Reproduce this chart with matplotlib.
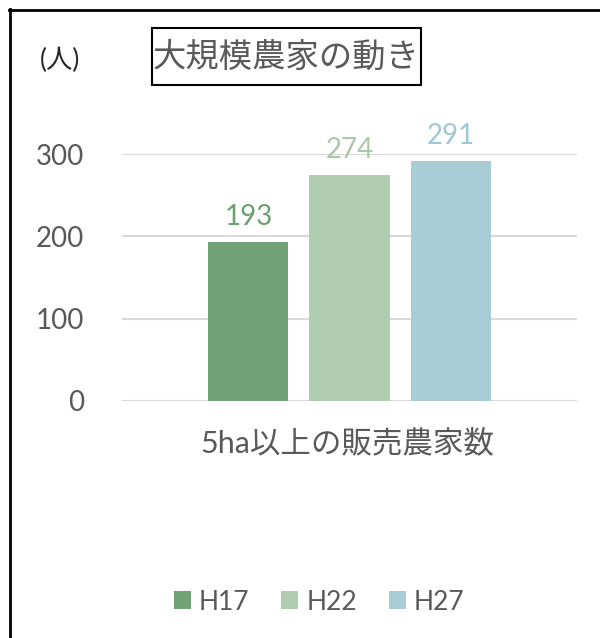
import matplotlib
matplotlib.use('Agg')
import matplotlib.pyplot as plt
from matplotlib.patches import Patch, Rectangle
from matplotlib.lines import Line2D

plt.rcParams['font.family'] = ['Lato', 'Noto Sans CJK JP', 'DejaVu Sans']

# data
series = ['H17', 'H22', 'H27']
values = [193, 274, 291]
colors = ['#70a275', '#b0cdb0', '#a8cdd6']
label_colors = ['#6b9e70', '#a8c8a8', '#a0c8d2']
category = '5ha以上の販売農家数'
title = '大規模農家の動き'
unit = '(人)'
yticks = [0, 100, 200, 300]

txt = '#595959'
W, H = 600, 638

fig = plt.figure(figsize=(6.0, 6.38), dpi=100)
ax = fig.add_axes([0.203, 0.3715, 0.759, 0.387])

xs = [0, 1, 2]
w = 80 / 101
bars = ax.bar(xs, values, width=w, color=colors, zorder=3)
for x, v, c in zip(xs, values, label_colors):
    ax.annotate(str(v), (x, v), xytext=(0, 9), textcoords='offset points',
                ha='center', va='bottom', fontsize=20, color=c, annotation_clip=False)

half = 455 / 101 / 2
ax.set_xlim(1 - half, 1 + half)
ax.set_ylim(0, 300)
ax.set_yticks(yticks)
ax.set_yticklabels([str(t) for t in yticks], fontsize=20, color=txt)
ax.tick_params(axis='y', length=0, pad=27)
ax.set_xticks([])
for s in ax.spines.values():
    s.set_visible(False)
ax.yaxis.grid(True, color='#d9d9d9', linewidth=1.5, zorder=0)
ax.set_axisbelow(True)
ax.set_facecolor('none')

fig.text(0.578, 1 - 443 / H, category, ha='center', va='center', fontsize=22, color=txt)
fig.text(0.1, 1 - 60 / H, unit, ha='center', va='center', fontsize=19, color='#262626')

# title with box
fig.add_artist(Rectangle((152 / W, 1 - 85 / H), (421 - 152) / W, (85 - 28) / H,
                         transform=fig.transFigure, facecolor='white', edgecolor='black',
                         linewidth=1.5))
fig.text(286.5 / W, 1 - 57 / H, title, ha='center', va='center', fontsize=24, color=txt)

handles = [Patch(facecolor=c, label=s) for c, s in zip(colors, series)]
fig.legend(handles=handles, loc='center', bbox_to_anchor=(0.532, 1 - 602 / H), ncol=3,
           frameon=False, fontsize=19, labelcolor=txt, handlelength=0.65, handleheight=0.65,
           handletextpad=0.3, columnspacing=1.2)

# chart border (top and left)
fig.add_artist(Line2D([9 / W, 1], [1 - 9.5 / H] * 2, color='black', linewidth=2))
fig.add_artist(Line2D([9.5 / W] * 2, [0, 1 - 9 / H], color='black', linewidth=2))

fig.savefig('out.png', dpi=100)
